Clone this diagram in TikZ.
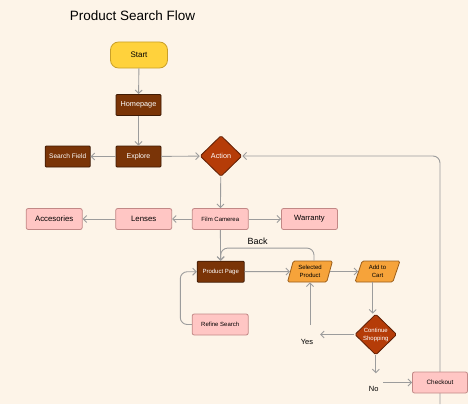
\documentclass[tikz,border=0pt]{standalone}
\usepackage{fontspec}
\setmainfont{Liberation Sans}
\usetikzlibrary{positioning}
\usetikzlibrary{shapes.geometric}
\usetikzlibrary{arrows.meta}
\usetikzlibrary{backgrounds}

\definecolor{bgcream}{HTML}{FDF4E8}
\definecolor{startfill}{HTML}{FFD23C}
\definecolor{startedge}{HTML}{C9A02A}
\definecolor{brownfill}{HTML}{7A3407}
\definecolor{brownedge}{HTML}{3F1A04}
\definecolor{rustfill}{HTML}{B53C08}
\definecolor{rustedge}{HTML}{5E1E04}
\definecolor{pinkfill}{HTML}{FFC6C4}
\definecolor{pinkedge}{HTML}{C28886}
\definecolor{orangefill}{HTML}{F6A33A}
\definecolor{orangeedge}{HTML}{9A5E1B}
\definecolor{linegray}{HTML}{9C9C9C}

\tikzset{
    flow/.style={draw=linegray, line width=0.9pt, -{Straight Barb[length=3.5pt,width=7pt]}},
    startbox/.style={draw=startedge, fill=startfill, rounded corners=8pt, line width=0.8pt,
        minimum width=57pt, minimum height=26pt, font=\fontsize{8}{9}\selectfont},
    pagebox/.style={draw=brownedge, fill=brownfill, text=white, rounded corners=1pt, line width=0.8pt,
        minimum width=45pt, minimum height=21pt, inner sep=1pt, font=\fontsize{7.3}{8}\selectfont},
    optbox/.style={draw=pinkedge, fill=pinkfill, rounded corners=2pt, line width=0.8pt,
        minimum width=56pt, minimum height=21pt, inner sep=1pt, font=\fontsize{7.8}{9}\selectfont},
    choice/.style={diamond, draw=rustedge, fill=rustfill, text=white, rounded corners=1.5pt, line width=0.8pt,
        minimum width=42pt, minimum height=41pt, inner sep=0pt, align=center, font=\fontsize{6}{8}\selectfont},
    databox/.style={trapezium, trapezium left angle=72, trapezium right angle=108, trapezium stretches=true,
        draw=orangeedge, fill=orangefill, rounded corners=1.5pt, line width=0.8pt,
        minimum width=45pt, minimum height=21pt, inner sep=0pt, align=center, font=\fontsize{6}{8}\selectfont},
    tag/.style={font=\fontsize{7.5}{9}\selectfont}
}

\begin{document}
\begin{tikzpicture}[x=1pt, y=-1pt]
    % Background
    \begin{scope}[on background layer]
        \fill[bgcream] (0,0) rectangle (468,404);
    \end{scope}
    \useasboundingbox (0,0) rectangle (468,404);

    % Title
    \node[font=\fontsize{13.5}{16}\selectfont] (title) at (132.5,16) {Product Search Flow};

    % Entry
    \node[startbox] (start) at (139,55) {Start};
    \node[pagebox] (home) at (138.5,105) {Homepage};
    \node[pagebox, font=\fontsize{7}{8}\selectfont] (explore) at (138.5,156.5) {Explore};
    \node[pagebox, font=\fontsize{6.6}{8}\selectfont] (field) at (67.7,156.5) {Search Field};
    \node[choice, font=\fontsize{7.2}{8}\selectfont] (action) at (221,156) {Action};

    % Categories
    \node[optbox, font=\fontsize{6}{8}\selectfont] (film) at (220.3,219) {Film Camerea};
    \node[optbox] (lenses) at (143.7,219) {Lenses};
    \node[optbox] (accessories) at (54.2,219) {Accesories};
    \node[optbox, font=\fontsize{7.6}{9}\selectfont] (warranty) at (309.5,219) {Warranty};

    % Product
    \node[pagebox, minimum width=47pt, font=\fontsize{6}{8}\selectfont] (product) at (220.7,271.7) {Product Page};
    \node[databox] (selected) at (310,271.5) {Selected\\Product};
    \node[databox] (cart) at (377.5,271.5) {Add to\\Cart};
    \node[optbox, font=\fontsize{6}{8}\selectfont] (refine) at (220.2,324.5) {Refine Search};
    \node[choice] (continue) at (375.8,334.5) {Continue\\Shopping};
    \node[optbox, minimum width=55pt, font=\fontsize{6.3}{8}\selectfont] (checkout) at (440,382.5) {Checkout};

    % Labels
    \node[font=\fontsize{9}{10}\selectfont] (back) at (257.7,241) {Back};
    \node[tag] (yes) at (307,342) {Yes};
    \node[tag] (no) at (373.7,389) {No};
    \coordinate (yesend) at (320,334.5);
    \coordinate (yesup) at (310,325);
    \coordinate (noend) at (375.8,373.3);
    \coordinate (nostart) at (383.3,382.5);
    \coordinate (exit) at (440,404);

    % Connectors
    \draw[flow] (start) -- (home);
    \draw[flow] (home) -- (explore);
    \draw[flow] (explore) -- (field);
    \draw[flow] (explore) -- (action);
    \draw[flow] (action) -- (film);
    \draw[flow] (film) -- (lenses);
    \draw[flow] (lenses) -- (accessories);
    \draw[flow] (film) -- (warranty);
    \draw[flow] (film) -- (product);
    \draw[flow, rounded corners=7pt] ([xshift=4pt]selected.north) -- ++(0,-12.5) -| (product.north);
    \draw[flow] (product) -- (selected);
    \draw[flow] (selected) -- (cart);
    \draw[flow] (cart.south -| 372.7,0) -- (continue.north -| 372.7,0);
    \draw[flow, rounded corners=7pt] (refine.west) -- ++(-11.5,0) |- (product.west);
    \draw[flow] (continue.west) -- (yesend);
    \draw[flow] (yesup) -- (yesup |- selected.south);
    \draw[flow] (continue.south) -- (noend);
    \draw[flow] (nostart) -- (checkout.west);

    % Return to action
    \begin{scope}[on background layer]
        \draw[flow, rounded corners=7pt] (exit) |- (action.east);
    \end{scope}
\end{tikzpicture}
\end{document}
